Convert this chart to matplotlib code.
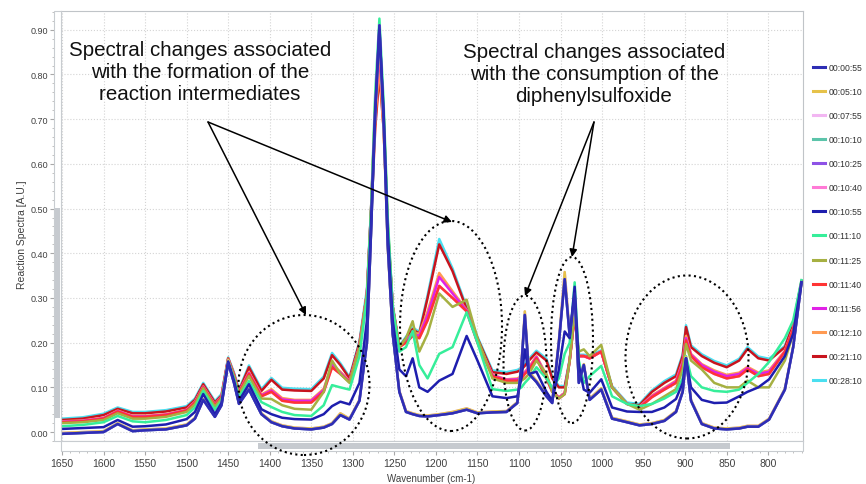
import matplotlib
matplotlib.use("Agg")
import matplotlib.pyplot as plt
from matplotlib.patches import Ellipse, Rectangle, FancyArrowPatch
from matplotlib.lines import Line2D
from matplotlib.ticker import MultipleLocator, FormatStrFormatter

# ---------------- data
wavenumber = [1650, 1625, 1600, 1583, 1565, 1550, 1525, 1500, 1490, 1480,
              1466, 1458, 1450, 1443, 1437, 1425, 1410, 1398, 1385, 1370,
              1350, 1335, 1325, 1315, 1304, 1292, 1283, 1278, 1273, 1268,
              1263, 1258, 1252, 1244, 1236, 1228, 1220, 1210, 1196, 1180,
              1163, 1150, 1132, 1115, 1102, 1097, 1093, 1088, 1079, 1067,
              1060, 1052, 1045, 1039, 1033, 1028, 1022, 1015, 1001, 988,
              970, 955, 940, 925, 911, 903, 899, 893, 880, 865,
              850, 835, 825, 812, 799, 780, 770, 760]

s0055 = [-0.004, -0.002, 0.000, 0.018, 0.002, 0.004, 0.006, 0.015, 0.030, 0.072,
         0.034, 0.060, 0.155, 0.110, 0.063, 0.095, 0.040, 0.022, 0.013, 0.008,
         0.006, 0.010, 0.018, 0.038, 0.028, 0.070, 0.200, 0.450, 0.720, 0.910,
         0.700, 0.420, 0.220, 0.090, 0.045, 0.040, 0.036, 0.035, 0.038, 0.042,
         0.050, 0.042, 0.044, 0.045, 0.065, 0.150, 0.262, 0.130, 0.112, 0.080,
         0.065, 0.200, 0.342, 0.215, 0.310, 0.110, 0.150, 0.072, 0.095, 0.030,
         0.022, 0.015, 0.018, 0.025, 0.045, 0.090, 0.165, 0.070, 0.018, 0.008,
         0.006, 0.008, 0.012, 0.012, 0.028, 0.095, 0.190, 0.335]

s0510 = [-0.002, 0.000, 0.002, 0.020, 0.004, 0.006, 0.008, 0.017, 0.032, 0.074,
         0.036, 0.062, 0.160, 0.112, 0.065, 0.097, 0.042, 0.024, 0.015, 0.010,
         0.008, 0.012, 0.020, 0.042, 0.030, 0.072, 0.205, 0.455, 0.720, 0.900,
         0.690, 0.415, 0.220, 0.092, 0.047, 0.042, 0.038, 0.037, 0.040, 0.045,
         0.053, 0.044, 0.046, 0.047, 0.067, 0.155, 0.270, 0.135, 0.115, 0.083,
         0.068, 0.205, 0.358, 0.220, 0.305, 0.115, 0.152, 0.075, 0.098, 0.032,
         0.024, 0.017, 0.020, 0.027, 0.047, 0.092, 0.168, 0.072, 0.020, 0.010,
         0.008, 0.010, 0.014, 0.014, 0.030, 0.097, 0.192, 0.335]

s1055 = [0.007, 0.009, 0.011, 0.027, 0.012, 0.013, 0.017, 0.029, 0.045, 0.085,
         0.040, 0.065, 0.158, 0.115, 0.070, 0.107, 0.051, 0.040, 0.032, 0.029,
         0.028, 0.040, 0.058, 0.068, 0.062, 0.110, 0.250, 0.470, 0.720, 0.900,
         0.720, 0.450, 0.250, 0.140, 0.125, 0.165, 0.100, 0.090, 0.115, 0.130,
         0.215, 0.160, 0.080, 0.076, 0.080, 0.120, 0.185, 0.130, 0.135, 0.090,
         0.070, 0.140, 0.225, 0.210, 0.325, 0.150, 0.095, 0.088, 0.118, 0.055,
         0.046, 0.045, 0.045, 0.055, 0.074, 0.110, 0.165, 0.100, 0.072, 0.065,
         0.066, 0.080, 0.090, 0.100, 0.118, 0.170, 0.220, 0.335]

s1110 = [0.013, 0.016, 0.022, 0.036, 0.024, 0.022, 0.027, 0.038, 0.055, 0.092,
         0.050, 0.070, 0.160, 0.120, 0.078, 0.114, 0.067, 0.056, 0.045, 0.038,
         0.036, 0.060, 0.105, 0.100, 0.095, 0.170, 0.300, 0.500, 0.760, 0.925,
         0.740, 0.480, 0.280, 0.180, 0.190, 0.226, 0.150, 0.120, 0.175, 0.190,
         0.268, 0.200, 0.096, 0.092, 0.095, 0.100, 0.110, 0.120, 0.145, 0.120,
         0.100, 0.120, 0.175, 0.200, 0.335, 0.160, 0.110, 0.125, 0.148, 0.080,
         0.063, 0.058, 0.063, 0.075, 0.090, 0.120, 0.170, 0.125, 0.100, 0.092,
         0.090, 0.095, 0.110, 0.130, 0.157, 0.210, 0.250, 0.340]

s1125 = [0.020, 0.022, 0.027, 0.042, 0.030, 0.030, 0.034, 0.045, 0.062, 0.098,
         0.057, 0.075, 0.162, 0.125, 0.085, 0.125, 0.075, 0.074, 0.060, 0.052,
         0.050, 0.090, 0.160, 0.130, 0.110, 0.190, 0.310, 0.500, 0.740, 0.880,
         0.720, 0.470, 0.280, 0.190, 0.210, 0.248, 0.180, 0.220, 0.310, 0.280,
         0.296, 0.210, 0.120, 0.110, 0.110, 0.115, 0.120, 0.130, 0.160, 0.130,
         0.090, 0.075, 0.085, 0.160, 0.270, 0.180, 0.185, 0.170, 0.195, 0.100,
         0.063, 0.050, 0.063, 0.080, 0.096, 0.140, 0.197, 0.160, 0.140, 0.110,
         0.100, 0.100, 0.115, 0.100, 0.100, 0.160, 0.220, 0.335]

s1140 = [0.022, 0.024, 0.030, 0.046, 0.034, 0.034, 0.038, 0.048, 0.066, 0.100,
         0.060, 0.078, 0.163, 0.128, 0.088, 0.130, 0.080, 0.090, 0.070, 0.066,
         0.066, 0.090, 0.145, 0.130, 0.112, 0.190, 0.310, 0.500, 0.730, 0.870,
         0.710, 0.460, 0.280, 0.190, 0.200, 0.215, 0.210, 0.250, 0.327, 0.300,
         0.270, 0.200, 0.125, 0.115, 0.115, 0.120, 0.130, 0.140, 0.165, 0.120,
         0.090, 0.075, 0.085, 0.160, 0.260, 0.170, 0.170, 0.165, 0.180, 0.100,
         0.063, 0.055, 0.078, 0.095, 0.110, 0.150, 0.205, 0.170, 0.145, 0.130,
         0.120, 0.125, 0.140, 0.125, 0.130, 0.180, 0.230, 0.335]

s1156 = [0.023, 0.025, 0.031, 0.047, 0.035, 0.035, 0.039, 0.049, 0.067, 0.101,
         0.061, 0.079, 0.163, 0.128, 0.089, 0.132, 0.082, 0.093, 0.073, 0.070,
         0.070, 0.094, 0.150, 0.133, 0.113, 0.192, 0.310, 0.495, 0.720, 0.860,
         0.700, 0.455, 0.280, 0.190, 0.205, 0.220, 0.215, 0.262, 0.347, 0.310,
         0.272, 0.202, 0.127, 0.117, 0.118, 0.123, 0.133, 0.143, 0.168, 0.125,
         0.092, 0.077, 0.087, 0.160, 0.262, 0.170, 0.170, 0.165, 0.180, 0.100,
         0.063, 0.056, 0.080, 0.097, 0.113, 0.155, 0.210, 0.173, 0.150, 0.135,
         0.125, 0.130, 0.143, 0.130, 0.135, 0.180, 0.230, 0.335]

s1210 = [0.024, 0.026, 0.032, 0.048, 0.036, 0.036, 0.040, 0.050, 0.068, 0.102,
         0.062, 0.080, 0.164, 0.129, 0.090, 0.134, 0.084, 0.096, 0.076, 0.072,
         0.072, 0.097, 0.152, 0.135, 0.114, 0.193, 0.310, 0.490, 0.700, 0.820,
         0.680, 0.450, 0.280, 0.190, 0.205, 0.222, 0.220, 0.270, 0.356, 0.315,
         0.273, 0.203, 0.128, 0.118, 0.120, 0.125, 0.135, 0.145, 0.170, 0.128,
         0.093, 0.078, 0.088, 0.160, 0.265, 0.170, 0.170, 0.165, 0.180, 0.100,
         0.063, 0.057, 0.082, 0.099, 0.115, 0.158, 0.215, 0.175, 0.152, 0.138,
         0.128, 0.133, 0.146, 0.133, 0.138, 0.182, 0.232, 0.335]

s2110 = [0.027, 0.030, 0.038, 0.052, 0.042, 0.042, 0.046, 0.055, 0.072, 0.107,
         0.066, 0.082, 0.165, 0.130, 0.092, 0.145, 0.092, 0.117, 0.095, 0.093,
         0.092, 0.120, 0.172, 0.150, 0.120, 0.200, 0.310, 0.480, 0.680, 0.800,
         0.680, 0.450, 0.280, 0.190, 0.210, 0.230, 0.220, 0.300, 0.420, 0.360,
         0.275, 0.210, 0.134, 0.130, 0.135, 0.140, 0.148, 0.160, 0.178, 0.160,
         0.120, 0.100, 0.100, 0.160, 0.270, 0.170, 0.170, 0.168, 0.180, 0.100,
         0.063, 0.060, 0.090, 0.110, 0.125, 0.170, 0.235, 0.190, 0.170, 0.155,
         0.145, 0.160, 0.186, 0.165, 0.160, 0.190, 0.240, 0.338]

s2810 = [0.030, 0.033, 0.041, 0.055, 0.045, 0.045, 0.049, 0.058, 0.075, 0.110,
         0.069, 0.085, 0.167, 0.133, 0.095, 0.149, 0.096, 0.121, 0.099, 0.097,
         0.096, 0.124, 0.177, 0.154, 0.123, 0.203, 0.320, 0.500, 0.720, 0.860,
         0.700, 0.460, 0.285, 0.193, 0.213, 0.234, 0.224, 0.306, 0.432, 0.366,
         0.279, 0.213, 0.138, 0.134, 0.139, 0.144, 0.152, 0.164, 0.182, 0.164,
         0.124, 0.103, 0.103, 0.163, 0.272, 0.173, 0.173, 0.171, 0.183, 0.103,
         0.066, 0.063, 0.093, 0.114, 0.129, 0.174, 0.239, 0.194, 0.174, 0.159,
         0.149, 0.164, 0.190, 0.169, 0.164, 0.193, 0.243, 0.338]

# early spectra that sit on top of each other
s0755 = s0510
s1010 = s0055
s1025 = s0055
s1040 = s1140

labels = ['00:00:55', '00:05:10', '00:07:55', '00:10:10', '00:10:25', '00:10:40', '00:10:55',
          '00:11:10', '00:11:25', '00:11:40', '00:11:56', '00:12:10', '00:21:10', '00:28:10']
series = [s0055, s0510, s0755, s1010, s1025, s1040, s1055,
          s1110, s1125, s1140, s1156, s1210, s2110, s2810]
colors = ['#2e2eb4', '#e6c24a', '#f2b6f2', '#5cc4aa', '#8e52e6', '#ff7ad6', '#1e1eae',
          '#36ee9a', '#a6b042', '#ff3434', '#e022e6', '#ff9a52', '#c8141e', '#4adff0']
# drawing order (back to front)
draw_order = [13, 12, 11, 5, 10, 9, 8, 7, 2, 1, 3, 4, 6, 0]

W, H = 866, 485
fig = plt.figure(figsize=(W / 100, H / 100), dpi=100)
ax = fig.add_axes([61 / W, 1 - 442 / H, 742 / W, 430 / H])

for i in draw_order:
    ax.plot(wavenumber, series[i], color=colors[i], lw=1.8, solid_joinstyle='round')

ax.set_xlim(1651.2, 758.2)
ax.set_ylim(-0.020, 0.942)

font = 'Liberation Sans'
ax.xaxis.set_major_locator(MultipleLocator(50))
ax.xaxis.set_minor_locator(MultipleLocator(10))
ax.yaxis.set_major_locator(MultipleLocator(0.1))
ax.yaxis.set_minor_locator(MultipleLocator(0.02))
ax.yaxis.set_major_formatter(FormatStrFormatter('%.2f'))
ax.tick_params(axis='y', which='major', length=8, pad=1.5, color='#a8a8a8', labelsize=6.5, labelcolor='#404040')
ax.tick_params(axis='y', which='minor', length=6.5, color='#b8b8b8')
ax.tick_params(axis='x', which='major', length=10, pad=2, color='#a8a8a8', labelsize=7.5, labelcolor='#404040')
ax.tick_params(axis='x', which='minor', length=8.6, color='#b8b8b8')
for lab in ax.get_xticklabels() + ax.get_yticklabels():
    lab.set_family(font)

ax.grid(True, which='major', color='#d4d4d4', linestyle=':', linewidth=0.8)
ax.set_axisbelow(True)
for sp in ax.spines.values():
    sp.set_color('#c0c4c8')
    sp.set_linewidth(0.8)

fig.text(22 / W, 1 - 235 / H, 'Reaction Spectra [A.U.]', rotation=90, ha='center', va='center',
         fontsize=7.5, color='#404040', family=font)
fig.text(431 / W, 1 - 479 / H, 'Wavenumber (cm-1)', ha='center', va='center',
         fontsize=7, color='#404040', family=font)

# scrollbars
def px_rect(x0, y0, x1, y1, **kw):
    fig.add_artist(Rectangle((x0 / W, 1 - y1 / H), (x1 - x0) / W, (y1 - y0) / H,
                             transform=fig.transFigure, **kw))

px_rect(54, 12, 61, 442, facecolor='white', edgecolor='#c8ccd0', lw=0.8)
px_rect(55, 209, 60, 419, facecolor='#c6cacf', edgecolor='none')
px_rect(61, 442, 803, 452, facecolor='white', edgecolor='#c8ccd0', lw=0.8)
px_rect(258, 444, 730, 450, facecolor='#c6cacf', edgecolor='none')

# legend
handles = [Line2D([], [], color=c, lw=2.2) for c in colors]
leg = fig.legend(handles, labels, loc='upper left', bbox_to_anchor=(813 / W, 1 - 64 / H),
                 frameon=False, prop={'family': font, 'size': 6.2}, handlelength=1.4,
                 handletextpad=0.47, labelspacing=1.75, borderpad=0, borderaxespad=0)
for t in leg.get_texts():
    t.set_color('#303030')

# annotations
fig.text(200 / W, 1 - 72 / H,
         'Spectral changes associated\nwith the formation of the\nreaction intermediates',
         ha='center', va='center', fontsize=14.8, family=font, color='#111111',
         linespacing=1.2)
fig.text(594 / W, 1 - 75 / H,
         'Spectral changes associated\nwith the consumption of the\ndiphenylsulfoxide',
         ha='center', va='center', fontsize=14.8, family=font, color='#111111',
         linespacing=1.2)

arrows = [((208, 123), (306, 316)), ((208, 123), (452, 223)),
          ((594, 123), (525, 297)), ((594, 123), (572, 258))]
for (x0, y0), (x1, y1) in arrows:
    fig.add_artist(FancyArrowPatch(
        (x0 / W, 1 - y0 / H), (x1 / W, 1 - y1 / H), transform=fig.transFigure,
        arrowstyle='-|>', mutation_scale=11, lw=1.1, color='black',
        shrinkA=0, shrinkB=0))

ellipses = [(304, 386, 131, 140), (451, 327, 102, 210), (525, 364, 43, 135),
            (572, 341, 42, 166), (687, 358, 123, 163)]
for cx, cy, w, h in ellipses:
    fig.add_artist(Ellipse((cx / W, 1 - cy / H), w / W, h / H, transform=fig.transFigure,
                           fill=False, edgecolor='black', linestyle=(0, (1, 1.6)), lw=1.5))

fig.savefig('out.png', dpi=100)
